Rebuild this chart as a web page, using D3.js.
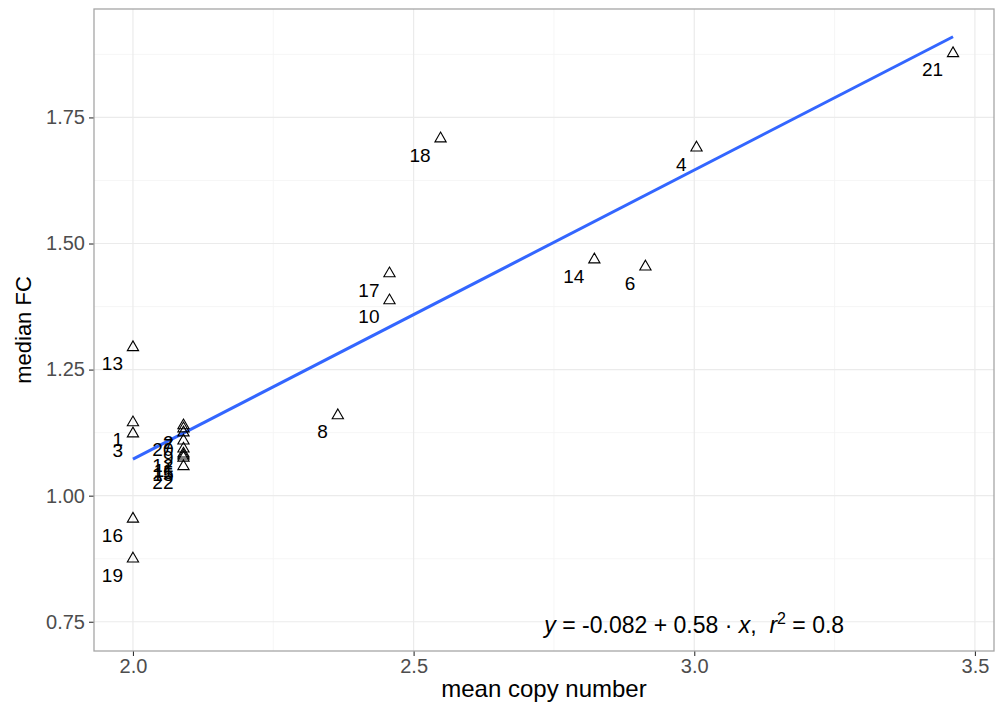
<!DOCTYPE html>
<html>
<head>
<meta charset="utf-8">
<script src="https://cdn.jsdelivr.net/npm/d3@7"></script>
<style>
  body { margin: 0; background: #fff; }
  text { font-family: "Liberation Sans", Arial, sans-serif; }
</style>
</head>
<body>
<svg id="chart" width="1008" height="709"></svg>
<script>
// sample ids, mean copy number, median FC
const ids = ["1", "2", "3", "4", "5", "6", "7", "8", "9", "10", "11",
             "12", "13", "14", "15", "16", "17", "18", "19", "20", "21", "22"]
const copyNumber = [2.0, 2.09, 2.0, 3.004, 2.09, 2.913, 2.09, 2.365, 2.09, 2.457, 2.09,
                    2.09, 2.0, 2.822, 2.09, 2.0, 2.457, 2.548, 2.0, 2.09, 3.461, 2.09]
const medianFC = [1.147, 1.141, 1.125, 1.692, 1.081, 1.456, 1.135, 1.161, 1.111, 1.389, 1.085,
                  1.095, 1.296, 1.470, 1.077, 0.956, 1.4425, 1.710, 0.877, 1.127, 1.879, 1.060]
const xTicks = [2.0, 2.5, 3.0, 3.5]
const yTicks = [0.75, 1.0, 1.25, 1.5, 1.75]
const xMinor = [2.25, 2.75, 3.25]
const yMinor = [0.875, 1.125, 1.375, 1.625, 1.875]
// fit label as printed on the chart
const eqPos = [3.0, 0.75]
const eqCoef = ["-0.082", "0.58"]
const eqR2 = "0.8"

const points = ids.map((id, i) => ({ id, x: copyNumber[i], y: medianFC[i] }))

const svg = d3.select("#chart")
const pLeft = 94, pRight = 994, pTop = 9, pBottom = 651

const x = d3.scaleLinear().domain([1.9306, 3.534]).range([pLeft, pRight])
const y = d3.scaleLinear().domain([0.692, 1.965]).range([pBottom, pTop])

//grid
const grid = svg.append("g")
grid.selectAll(".xminor").data(xMinor).enter().append("line")
    .attr("x1", d => x(d)).attr("x2", d => x(d)).attr("y1", pTop).attr("y2", pBottom)
    .attr("stroke", "#f4f4f4").attr("stroke-width", 0.8)
grid.selectAll(".yminor").data(yMinor).enter().append("line")
    .attr("y1", d => y(d)).attr("y2", d => y(d)).attr("x1", pLeft).attr("x2", pRight)
    .attr("stroke", "#f4f4f4").attr("stroke-width", 0.8)
grid.selectAll(".xmajor").data(xTicks).enter().append("line")
    .attr("x1", d => x(d)).attr("x2", d => x(d)).attr("y1", pTop).attr("y2", pBottom)
    .attr("stroke", "#ebebeb").attr("stroke-width", 1.2)
grid.selectAll(".ymajor").data(yTicks).enter().append("line")
    .attr("y1", d => y(d)).attr("y2", d => y(d)).attr("x1", pLeft).attr("x2", pRight)
    .attr("stroke", "#ebebeb").attr("stroke-width", 1.2)

//axes
const xAxis = svg.append("g")
    .attr("transform", `translate(0, ${pBottom})`)
    .call(d3.axisBottom(x).tickValues(xTicks).tickFormat(d3.format(".1f")).tickSize(5).tickPadding(3))
const yAxis = svg.append("g")
    .attr("transform", `translate(${pLeft}, 0)`)
    .call(d3.axisLeft(y).tickValues(yTicks).tickFormat(d3.format(".2f")).tickSize(5).tickPadding(4))
;[xAxis, yAxis].forEach(a => {
    a.select(".domain").remove()
    a.selectAll(".tick line").attr("stroke", "#333").attr("stroke-width", 1.1)
    a.selectAll(".tick text").attr("fill", "#4d4d4d").style("font-size", "20px")
        .style("font-family", "Liberation Sans, Arial, sans-serif")
})

// least-squares fit
const mx = d3.mean(points, d => d.x), my = d3.mean(points, d => d.y)
const slope = d3.sum(points, d => (d.x - mx) * (d.y - my)) / d3.sum(points, d => (d.x - mx) ** 2)
const intercept = my - slope * mx
const [x0, x1] = d3.extent(points, d => d.x)

svg.append("line")
    .attr("x1", x(x0)).attr("y1", y(intercept + slope * x0))
    .attr("x2", x(x1)).attr("y2", y(intercept + slope * x1))
    .attr("stroke", "#3366ff").attr("stroke-width", 3)

//points
const tri = d3.symbol().type(d3.symbolTriangle).size(55)
svg.append("g").selectAll("path")
    .data(points).enter().append("path")
    .attr("d", tri)
    .attr("transform", d => `translate(${x(d.x)}, ${y(d.y) + 1})`)
    .attr("fill", "none").attr("stroke", "#000").attr("stroke-width", 1.1)

//labels
svg.append("g").selectAll("text")
    .data(points).enter().append("text")
    .attr("x", d => x(d.x) - 10)
    .attr("y", d => y(d.y) + 24)
    .attr("text-anchor", "end")
    .style("font-size", "19px")
    .attr("fill", "#000")
    .text(d => d.id)

//equation
const eq = svg.append("text")
    .attr("x", x(eqPos[0])).attr("y", y(eqPos[1]) + 11)
    .attr("text-anchor", "middle")
    .style("font-size", "23px")
    .attr("xml:space", "preserve")
eq.append("tspan").style("font-style", "italic").text("y")
eq.append("tspan").text(` = ${eqCoef[0]} + ${eqCoef[1]} \u00b7 `)
eq.append("tspan").style("font-style", "italic").text("x")
eq.append("tspan").text(",  ")
eq.append("tspan").style("font-style", "italic").text("r")
eq.append("tspan").attr("dy", -9).style("font-size", "16px").text("2")
eq.append("tspan").attr("dy", 9).text(` = ${eqR2}`)

//panel border
svg.append("rect")
    .attr("x", pLeft).attr("y", pTop).attr("width", pRight - pLeft).attr("height", pBottom - pTop)
    .attr("fill", "none").attr("stroke", "#a6a6a6").attr("stroke-width", 1.3)

//titles
svg.append("text")
    .attr("x", (pLeft + pRight) / 2).attr("y", 697)
    .attr("text-anchor", "middle").style("font-size", "24px")
    .text("mean copy number")
svg.append("text")
    .attr("transform", `translate(31, ${(pTop + pBottom) / 2}) rotate(-90)`)
    .attr("text-anchor", "middle").style("font-size", "22px")
    .text("median FC")
</script>
</body>
</html>
